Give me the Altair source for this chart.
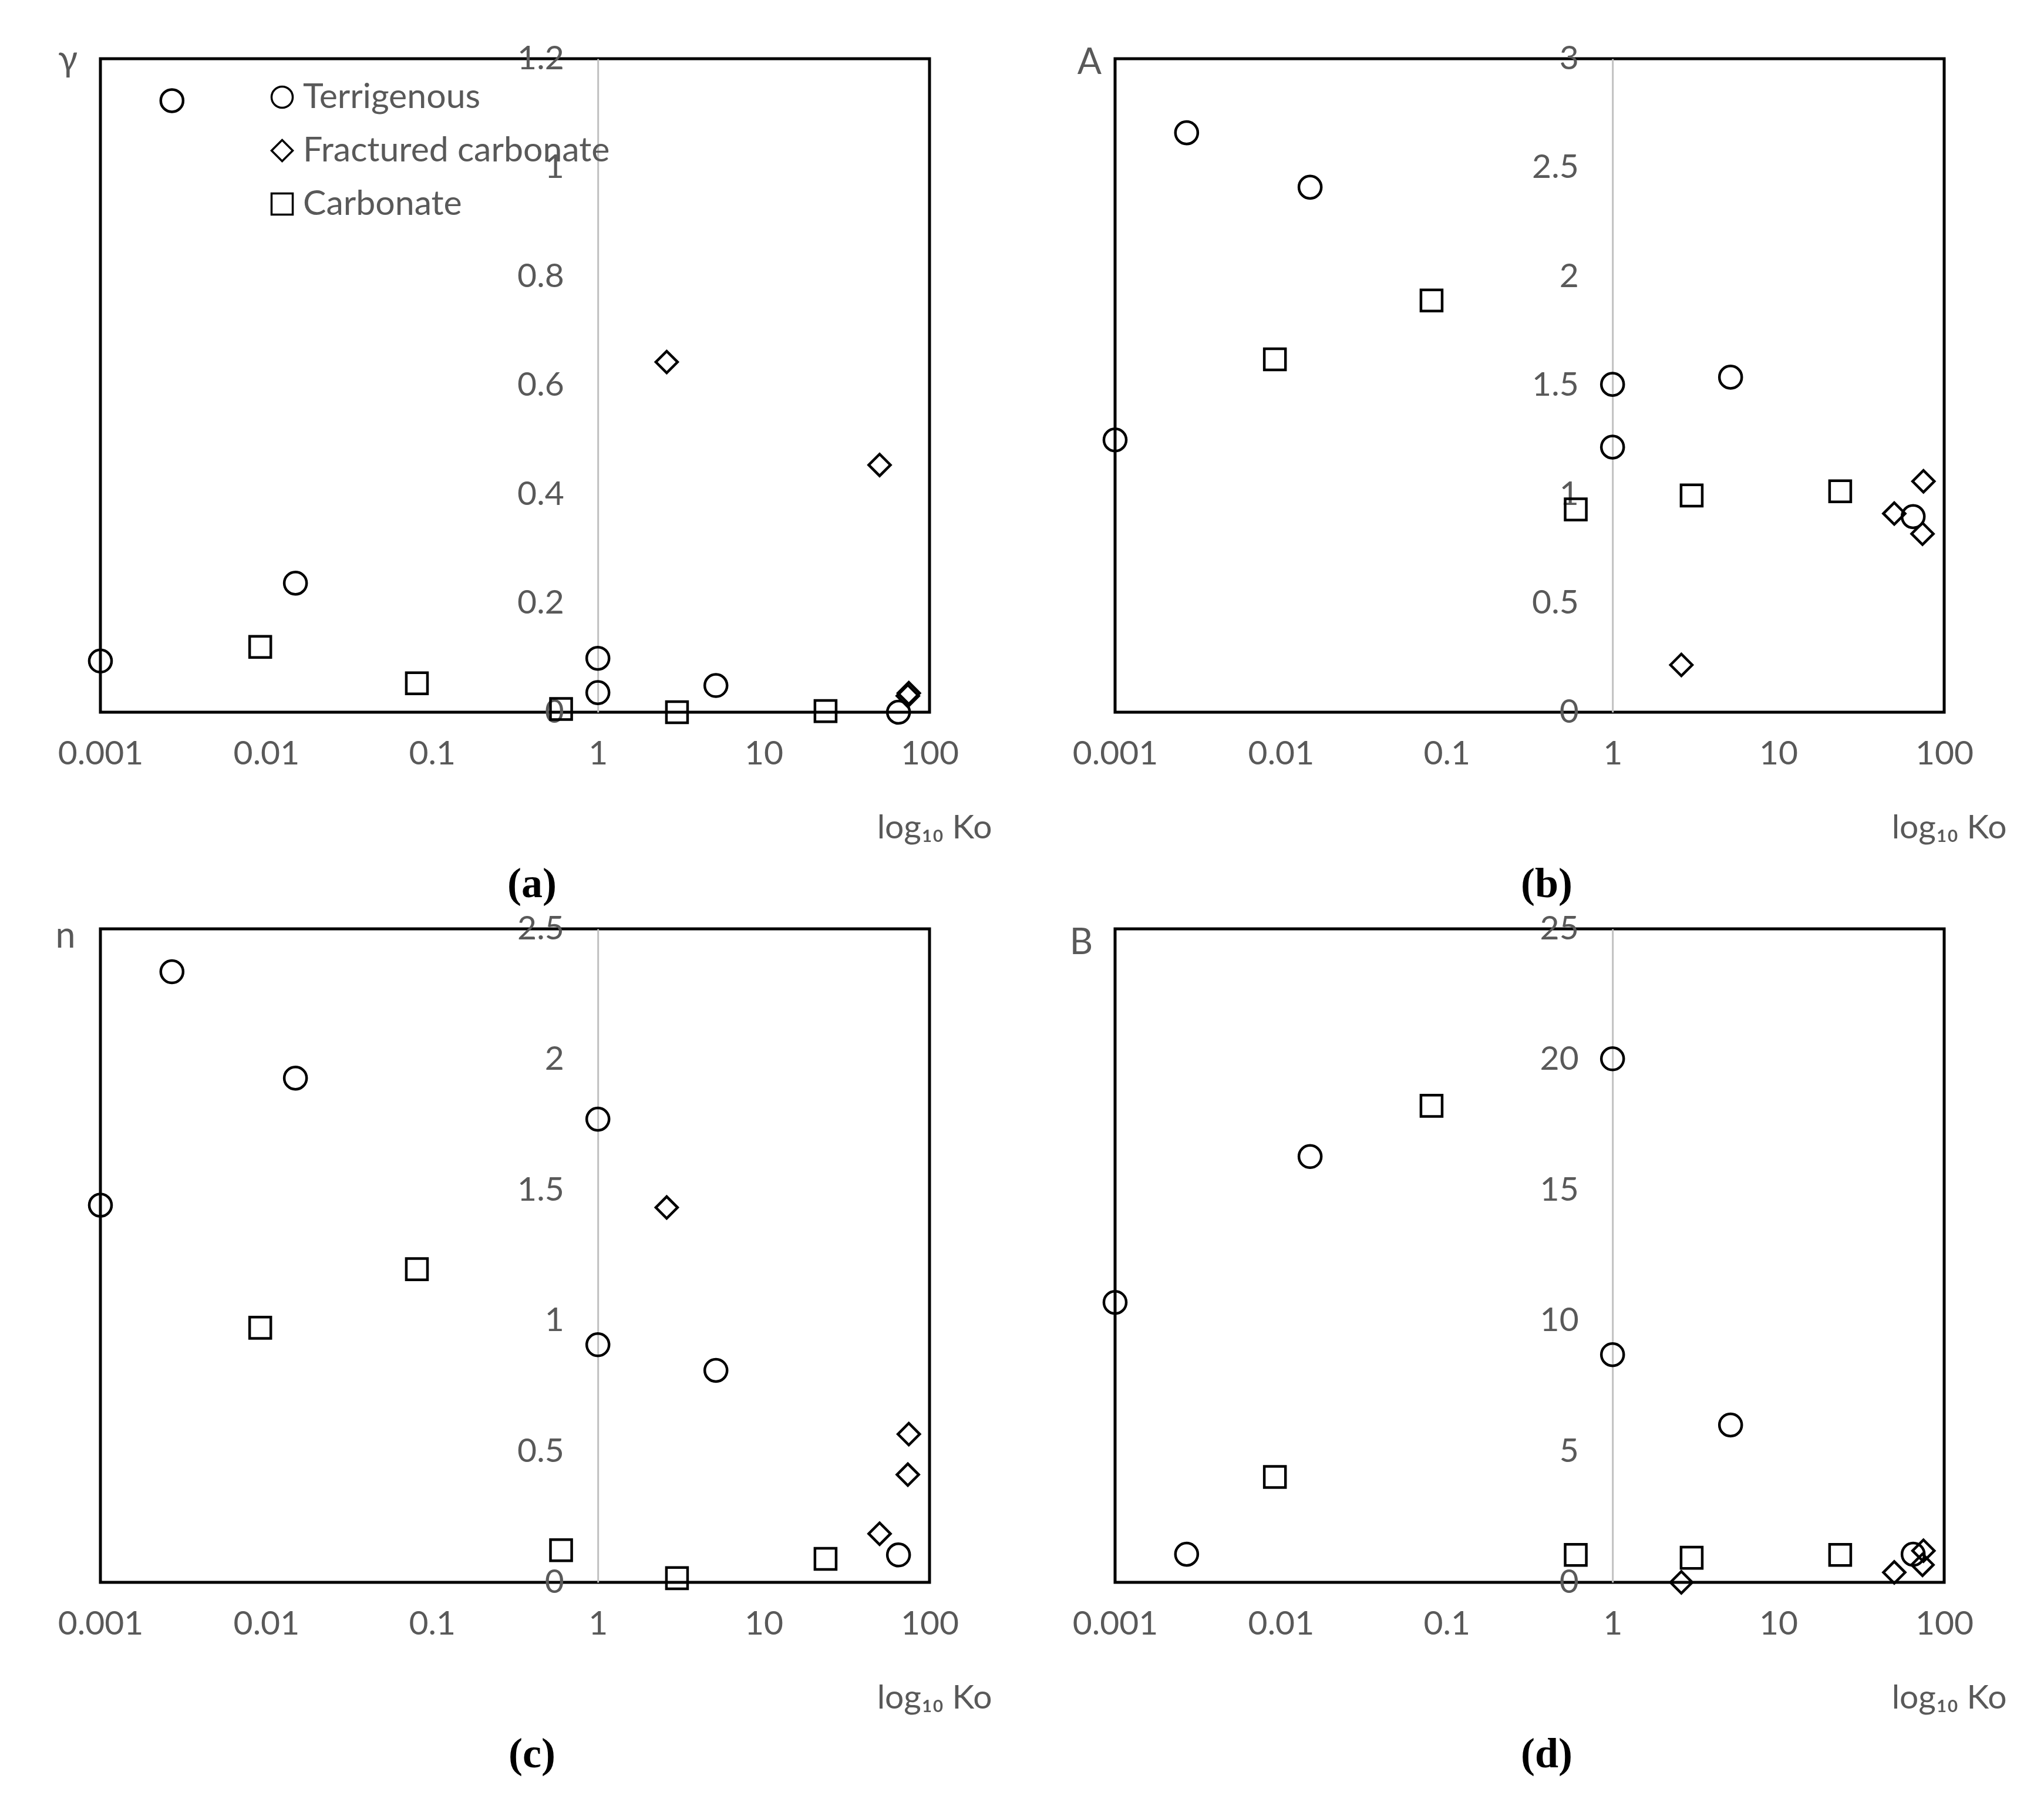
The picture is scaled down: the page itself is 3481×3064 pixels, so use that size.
import altair as alt
import pandas as pd

# ---------------- data ----------------
CATEGORIES = ["Terrigenous", "Fractured carbonate", "Carbonate"]

TERR_X = [0.001, 0.0027, 0.015, 1.0, 1.0, 5.15, 65.0]
CARB_X = [0.0092, 0.081, 0.6, 3.0, 23.6]
FRAC_X = [2.6, 50.0, 75.0, 74.0]

# panel (a) gamma
TERR_Y_A = [0.094, 1.123, 0.237, 0.099, 0.036, 0.049, 0.0]
CARB_Y_A = [0.120, 0.053, 0.006, 0.0, 0.002]
FRAC_Y_A = [0.643, 0.454, 0.035, 0.030]
# panel (b) A
TERR_Y_B = [1.25, 2.66, 2.41, 1.505, 1.217, 1.538, 0.898]
CARB_Y_B = [1.62, 1.89, 0.931, 0.995, 1.014]
FRAC_Y_B = [0.217, 0.912, 1.06, 0.819]
# panel (c) n
TERR_Y_C = [1.443, 2.336, 1.929, 1.772, 0.909, 0.811, 0.105]
CARB_Y_C = [0.974, 1.198, 0.123, 0.016, 0.090]
FRAC_Y_C = [1.434, 0.186, 0.567, 0.412]
# panel (d) B
TERR_Y_D = [10.71, 1.075, 16.29, 20.03, 8.71, 6.02, 1.075]
CARB_Y_D = [4.03, 18.23, 1.05, 0.94, 1.05]
FRAC_Y_D = [0.0, 0.38, 1.21, 0.67]

Y_TITLES = ["γ", "A", "n", "B"]
Y_MAX = [1.2, 3.0, 2.5, 25.0]
Y_STEP = [0.2, 0.5, 0.5, 5.0]
PANEL_LABELS = ["(a)", "(b)", "(c)", "(d)"]
X_TICKS = [0.001, 0.01, 0.1, 1, 10, 100]
X_TITLE = "log₁₀ Ko"

TERR_Y = [TERR_Y_A, TERR_Y_B, TERR_Y_C, TERR_Y_D]
CARB_Y = [CARB_Y_A, CARB_Y_B, CARB_Y_C, CARB_Y_D]
FRAC_Y = [FRAC_Y_A, FRAC_Y_B, FRAC_Y_C, FRAC_Y_D]

# ---------------- styling ----------------
W, H = 1412, 1113
GRAY_TXT = "#595959"
FONT = "Lato"
FS = 57
Y_AXIS_POS = W * 0.6          # x = 1 on a 0.001..100 log axis
TITLE_DY = [20, 25, 31, 42]   # baseline of y title below the frame top
TITLE_DX = [-56, -44, -60, -58]


def panel(i):
    rows = []
    for x, y in zip(TERR_X, TERR_Y[i]):
        rows.append({"x": x, "y": y, "cat": CATEGORIES[0]})
    for x, y in zip(FRAC_X, FRAC_Y[i]):
        rows.append({"x": x, "y": y, "cat": CATEGORIES[1]})
    for x, y in zip(CARB_X, CARB_Y[i]):
        rows.append({"x": x, "y": y, "cat": CATEGORIES[2]})
    df = pd.DataFrame(rows)

    n = int(round(Y_MAX[i] / Y_STEP[i]))
    yvals = [round(k * Y_STEP[i], 4) for k in range(n + 1)]

    if i == 0:
        legend = alt.Legend(
            title=None, orient="none", legendX=280, legendY=36, padding=0,
            rowPadding=31, labelFont=FONT, labelFontSize=59, labelColor=GRAY_TXT,
            labelOffset=6, labelLimit=0, symbolSize=1300, symbolStrokeWidth=3.5,
            symbolStrokeColor="black",
        )
    else:
        legend = None

    points = alt.Chart(df).mark_point(
        filled=False, stroke="black", color="black", strokeWidth=4.5, opacity=1
    ).encode(
        x=alt.X(
            "x:Q",
            scale=alt.Scale(type="log", domain=[0.001, 100], nice=False),
            axis=alt.Axis(
                values=X_TICKS, format="~g", ticks=False, domain=False, grid=False,
                labelFlush=False, labelOverlap=False, labelPadding=43,
                labelFont=FONT, labelFontSize=FS, labelColor=GRAY_TXT,
                title=X_TITLE, titleFont=FONT, titleFontSize=FS, titleColor=GRAY_TXT,
                titleFontWeight="normal", titleAlign="right", titleBaseline="middle",
                titleX=W + 106, titleY=197,
            ),
        ),
        y=alt.Y(
            "y:Q",
            scale=alt.Scale(domain=[0, Y_MAX[i]], nice=False, zero=True),
            axis=alt.Axis(
                orient="left", offset=-Y_AXIS_POS, values=yvals, format="~g",
                ticks=False, grid=False, domainColor="#C0C0C0", domainWidth=3,
                labelPadding=58, labelFont=FONT, labelFontSize=FS, labelColor=GRAY_TXT,
                labelOverlap=False,
                title=Y_TITLES[i], titleAngle=0, titleFont=FONT, titleFontSize=61,
                titleColor=GRAY_TXT, titleFontWeight="normal", titleAlign="center",
                titleBaseline="alphabetic",
                titleX=-Y_AXIS_POS + TITLE_DX[i], titleY=TITLE_DY[i],
            ),
        ),
        shape=alt.Shape(
            "cat:N",
            scale=alt.Scale(domain=CATEGORIES, range=["circle", "diamond", "square"]),
            legend=legend,
        ),
        # reversed domain order keeps this (legend-less) scale from being merged
        # with the shape legend
        size=alt.Size(
            "cat:N",
            scale=alt.Scale(domain=CATEGORIES[::-1], range=[1300, 1450, 1100]),
            legend=None,
        ),
    )

    label = alt.Chart(pd.DataFrame({"label": [PANEL_LABELS[i]]})).mark_text(
        font="Liberation Serif", fontSize=72, fontWeight="bold", color="black",
        align="center", baseline="middle",
    ).encode(x=alt.value(735), y=alt.value(1406), text="label:N")

    return alt.layer(points, label).properties(width=W, height=H)


chart = alt.concat(
    panel(0), panel(1), panel(2), panel(3),
    columns=2,
    spacing={"row": 369, "column": 316},
    bounds="flush",
).resolve_scale(
    shape="independent", size="independent"
).resolve_legend(
    shape="independent", size="independent"
).properties(
    padding={"left": 83, "top": 60, "right": 20, "bottom": 20},
    background="white",
).configure_view(
    stroke="black", strokeWidth=5
)

chart.save("out.html", embed_options={"renderer": "svg", "actions": False})
